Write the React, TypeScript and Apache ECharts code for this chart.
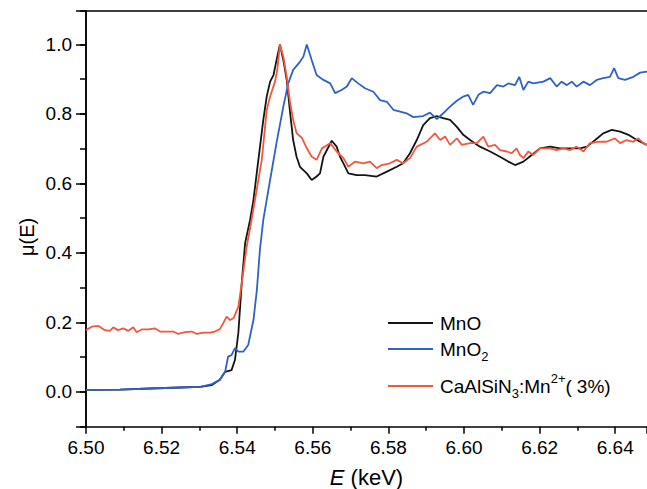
import React, { useEffect, useRef } from 'react';
import * as echarts from 'echarts';

// Energy (keV) / normalised absorption μ(E) pairs
const mnO: [number, number][] = [
  [6.5, 0.006], [6.509, 0.007], [6.5169, 0.01], [6.5249, 0.013], [6.5302, 0.015], [6.5333, 0.02],
  [6.5354, 0.035], [6.5368, 0.058], [6.5385, 0.063], [6.5394, 0.092], [6.5403, 0.17], [6.5412, 0.314],
  [6.5421, 0.429], [6.5434, 0.495], [6.5443, 0.553], [6.5456, 0.668], [6.5469, 0.783], [6.5478, 0.85],
  [6.5487, 0.893], [6.5496, 0.912], [6.5504, 0.955], [6.5513, 1.0], [6.5522, 0.955], [6.5531, 0.898],
  [6.554, 0.803], [6.5548, 0.725], [6.5557, 0.677], [6.5566, 0.648], [6.5584, 0.629], [6.5597, 0.61],
  [6.561, 0.62], [6.5619, 0.629], [6.5628, 0.677], [6.565, 0.723], [6.5663, 0.706], [6.5672, 0.677],
  [6.5681, 0.658], [6.5694, 0.629], [6.5716, 0.624], [6.5738, 0.624], [6.5769, 0.62], [6.5796, 0.634],
  [6.5822, 0.648], [6.5839, 0.658], [6.5857, 0.687], [6.5875, 0.725], [6.5892, 0.768], [6.591, 0.788],
  [6.5928, 0.794], [6.5945, 0.788], [6.5963, 0.783], [6.5981, 0.763], [6.5998, 0.74], [6.6016, 0.725],
  [6.6042, 0.706], [6.6069, 0.692], [6.6095, 0.677], [6.6117, 0.663], [6.6135, 0.653], [6.6157, 0.663],
  [6.6179, 0.682], [6.6201, 0.701], [6.6228, 0.706], [6.6254, 0.701], [6.628, 0.701], [6.6307, 0.701],
  [6.6325, 0.706], [6.6347, 0.725], [6.6368, 0.744], [6.6391, 0.754], [6.6413, 0.749], [6.6435, 0.74],
  [6.6457, 0.725], [6.6474, 0.716], [6.6484, 0.711],
];

const mnO2: [number, number][] = [
  [6.5, 0.006], [6.509, 0.007], [6.5169, 0.01], [6.5249, 0.013], [6.5302, 0.015], [6.5333, 0.023],
  [6.5354, 0.035], [6.5368, 0.058], [6.5376, 0.102], [6.5385, 0.106], [6.5394, 0.126], [6.5403, 0.116],
  [6.5416, 0.116], [6.5429, 0.135], [6.5443, 0.207], [6.5452, 0.294], [6.546, 0.409], [6.5469, 0.495],
  [6.5478, 0.553], [6.5487, 0.61], [6.5504, 0.717], [6.5522, 0.821], [6.5535, 0.888], [6.5548, 0.927],
  [6.5566, 0.95], [6.5575, 0.965], [6.5584, 1.0], [6.5597, 0.955], [6.561, 0.912], [6.5628, 0.898],
  [6.5646, 0.888], [6.5659, 0.86], [6.5676, 0.869], [6.569, 0.879], [6.5703, 0.903], [6.572, 0.888],
  [6.5738, 0.874], [6.576, 0.864], [6.5778, 0.84], [6.5796, 0.835], [6.5813, 0.812], [6.5831, 0.807],
  [6.5848, 0.802], [6.5866, 0.791], [6.5892, 0.794], [6.591, 0.804], [6.5928, 0.785], [6.5945, 0.802],
  [6.5963, 0.821], [6.5981, 0.838], [6.5998, 0.85], [6.6011, 0.855], [6.6024, 0.826], [6.6038, 0.855],
  [6.6051, 0.864], [6.6069, 0.86], [6.6087, 0.883], [6.6104, 0.879], [6.6117, 0.888], [6.6135, 0.883],
  [6.6146, 0.907], [6.6157, 0.869], [6.617, 0.893], [6.6183, 0.888], [6.621, 0.893], [6.6228, 0.903],
  [6.6245, 0.879], [6.6258, 0.893], [6.6272, 0.883], [6.6285, 0.893], [6.6298, 0.879], [6.6316, 0.893],
  [6.6333, 0.883], [6.6351, 0.898], [6.6368, 0.903], [6.6386, 0.907], [6.6397, 0.932], [6.6408, 0.903],
  [6.6426, 0.898], [6.6448, 0.907], [6.6466, 0.919], [6.6484, 0.922],
];

const caAlSiN3: [number, number][] = [
  [6.5, 0.178], [6.5015, 0.188], [6.5033, 0.19], [6.505, 0.178], [6.5063, 0.176], [6.5072, 0.186],
  [6.5085, 0.178], [6.5099, 0.183], [6.5112, 0.176], [6.5125, 0.186], [6.5134, 0.172], [6.5147, 0.18],
  [6.5165, 0.18], [6.5183, 0.183], [6.5196, 0.174], [6.5218, 0.174], [6.5231, 0.174], [6.5244, 0.167],
  [6.5262, 0.172], [6.528, 0.174], [6.5293, 0.167], [6.531, 0.171], [6.5328, 0.171], [6.5341, 0.174],
  [6.5354, 0.181], [6.5363, 0.198], [6.5372, 0.217], [6.5381, 0.207], [6.539, 0.212], [6.5397, 0.23],
  [6.5403, 0.245], [6.5412, 0.313], [6.5425, 0.418], [6.5438, 0.495], [6.5447, 0.553], [6.5465, 0.668],
  [6.5478, 0.811], [6.5487, 0.85], [6.55, 0.893], [6.5506, 0.927], [6.5513, 1.0], [6.5522, 0.965],
  [6.5531, 0.907], [6.554, 0.832], [6.5548, 0.783], [6.5557, 0.745], [6.5571, 0.731], [6.5584, 0.702],
  [6.5597, 0.677], [6.561, 0.668], [6.5624, 0.701], [6.5646, 0.716], [6.5663, 0.692], [6.5681, 0.673],
  [6.5694, 0.648], [6.5712, 0.663], [6.5734, 0.658], [6.5751, 0.663], [6.5769, 0.644], [6.5782, 0.653],
  [6.5804, 0.658], [6.5822, 0.668], [6.5839, 0.658], [6.5857, 0.673], [6.5875, 0.706], [6.5901, 0.72],
  [6.5923, 0.744], [6.5937, 0.725], [6.595, 0.735], [6.5963, 0.711], [6.5981, 0.73], [6.5994, 0.711],
  [6.6016, 0.716], [6.6034, 0.716], [6.6051, 0.735], [6.6064, 0.706], [6.6082, 0.711], [6.6095, 0.696],
  [6.6113, 0.692], [6.6126, 0.687], [6.6139, 0.701], [6.6148, 0.682], [6.6157, 0.673], [6.617, 0.692],
  [6.6183, 0.682], [6.6201, 0.701], [6.6228, 0.701], [6.6245, 0.696], [6.6263, 0.701], [6.628, 0.696],
  [6.6298, 0.706], [6.6316, 0.692], [6.6333, 0.716], [6.6355, 0.72], [6.6377, 0.72], [6.6399, 0.73],
  [6.6413, 0.716], [6.643, 0.725], [6.6448, 0.72], [6.6461, 0.73], [6.6474, 0.716], [6.6484, 0.711],
];

// Tick labels shown in the reference
const xTickLabels = ['6.50', '6.52', '6.54', '6.56', '6.58', '6.60', '6.62', '6.64'];
const yTickLabels = ['0.0', '0.2', '0.4', '0.6', '0.8', '1.0'];

const seriesNames = ['MnO', 'MnO2', 'CaAlSiN3:Mn2+(3%)'];
const legendLabels = [
  '{m|MnO}',
  '{m|MnO}{sub|2}',
  '{m|CaAlSiN}{sub|3}{m|:Mn}{sup|2+}{m|(}{p|3%)}',
];
const seriesColors = ['#141414', '#2f62c4', '#f4573c'];

const FONT = 'Liberation Sans, Arial, Helvetica, sans-serif';
const X_MIN = 6.5;
const X_MAX = 6.6484;
const X_STEP = 0.02;
const Y_MIN = -0.1;
const Y_MAX = 1.096;
const Y_MINOR_STEP = 0.1;

export default function App() {
  const ref = useRef<HTMLDivElement>(null);

  useEffect(() => {
    if (!ref.current) return;
    const chart = echarts.init(ref.current, undefined, { renderer: 'svg' });
    const datasets = [mnO, mnO2, caAlSiN3];
    const legendY = [323, 349, 386];
    const rich = {
      m: { fontSize: 19, lineHeight: 28, fontFamily: FONT, color: '#000' },
      sub: { fontSize: 13, lineHeight: 14, verticalAlign: 'bottom', fontFamily: FONT, color: '#000' },
      sup: { fontSize: 13, lineHeight: 16, verticalAlign: 'top', fontFamily: FONT, color: '#000' },
      p: { fontSize: 19, lineHeight: 28, fontFamily: FONT, color: '#000', padding: [0, 0, 0, 5] },
    };
    chart.setOption({
      animation: false,
      grid: { left: 86, right: 0, top: 11.1, bottom: 62.25 },
      xAxis: [
        {
          type: 'value',
          min: X_MIN,
          max: X_MAX,
          interval: X_STEP,
          axisLine: { show: true, onZero: false, lineStyle: { color: '#000', width: 1.5 } },
          axisTick: { show: true, length: 7, lineStyle: { color: '#000', width: 1.5 } },
          minorTick: { show: true, splitNumber: 2, length: 4, lineStyle: { color: '#000', width: 1.5 } },
          splitLine: { show: false },
          axisLabel: { show: false },
        },
        {
          type: 'value',
          position: 'top',
          min: X_MIN,
          max: X_MAX,
          axisLine: { show: true, onZero: false, lineStyle: { color: '#000', width: 1.5 } },
          axisTick: { show: false },
          axisLabel: { show: false },
          splitLine: { show: false },
        },
      ],
      yAxis: [
        {
          type: 'value',
          min: Y_MIN,
          max: Y_MAX,
          splitNumber: 6,
          axisLine: { show: true, onZero: false, lineStyle: { color: '#000', width: 1.5 } },
          axisTick: { show: true, length: 10, lineStyle: { color: '#000', width: 1.5 } },
          splitLine: { show: false },
          axisLabel: { show: false },
        },
        {
          type: 'value',
          position: 'left',
          min: Y_MIN,
          max: Y_MAX,
          interval: Y_MINOR_STEP,
          axisLine: { show: true, onZero: false, lineStyle: { color: '#000', width: 1.5 } },
          axisTick: { show: true, length: 6, lineStyle: { color: '#000', width: 1.5 } },
          splitLine: { show: false },
          axisLabel: { show: false },
        },
      ],
      series: datasets.map((d, i) => ({
        name: seriesNames[i],
        type: 'line',
        xAxisIndex: 0,
        yAxisIndex: 0,
        data: d,
        symbol: 'none',
        lineStyle: { color: seriesColors[i], width: 1.8 },
        itemStyle: { color: seriesColors[i] },
      })),
    });

    // Tick labels and axis titles placed through the axes' own scales
    const axisX = chart.convertToPixel({ xAxisIndex: 0 }, X_MIN) as number;
    const axisXEnd = chart.convertToPixel({ xAxisIndex: 0 }, X_MAX) as number;
    const axisY = chart.convertToPixel({ yAxisIndex: 0 }, Y_MIN) as number;
    const axisYEnd = chart.convertToPixel({ yAxisIndex: 0 }, Y_MAX) as number;
    const labelStyle = { fontSize: 19, fontFamily: FONT, fill: '#000' };
    const xLabels = xTickLabels.map((t) => ({
      type: 'text',
      x: chart.convertToPixel({ xAxisIndex: 0 }, parseFloat(t)) as number,
      y: axisY + 11,
      style: { ...labelStyle, text: t, align: 'center', verticalAlign: 'top' },
    }));
    const yLabels = yTickLabels.map((t) => ({
      type: 'text',
      x: axisX - 14,
      y: chart.convertToPixel({ yAxisIndex: 0 }, parseFloat(t)) as number,
      style: { ...labelStyle, text: t, align: 'right', verticalAlign: 'middle' },
    }));
    const titles = [
      {
        type: 'text',
        x: (axisX + axisXEnd) / 2,
        y: axisY + 51,
        style: {
          text: '{i|E} (keV)',
          fontSize: 22,
          fontFamily: FONT,
          fill: '#000',
          align: 'center',
          verticalAlign: 'middle',
          rich: { i: { fontStyle: 'italic', fontSize: 22, fontFamily: FONT, color: '#000' } },
        },
      },
      {
        type: 'text',
        x: axisX - 59,
        y: (axisY + axisYEnd) / 2 + 18,
        rotation: Math.PI / 2,
        style: { text: 'μ(E)', fontSize: 20, fontFamily: FONT, fill: '#000', align: 'center', verticalAlign: 'middle' },
      },
    ];
    const legend = legendLabels.flatMap((label, i) => [
      {
        type: 'line',
        shape: { x1: 388, y1: legendY[i], x2: 433, y2: legendY[i] },
        style: { stroke: seriesColors[i], lineWidth: 2 },
      },
      {
        type: 'text',
        x: 440,
        y: legendY[i],
        style: {
          text: label,
          rich,
          fontSize: 19,
          fontFamily: FONT,
          fill: '#000',
          align: 'left',
          verticalAlign: 'middle',
        },
      },
    ]);
    chart.setOption({ graphic: [...xLabels, ...yLabels, ...titles, ...legend] });
    return () => chart.dispose();
  }, []);

  return (
    <div
      ref={ref}
      style={{ position: 'fixed', left: 0, top: 0, width: 647, height: 489, background: '#fff' }}
    />
  );
}
